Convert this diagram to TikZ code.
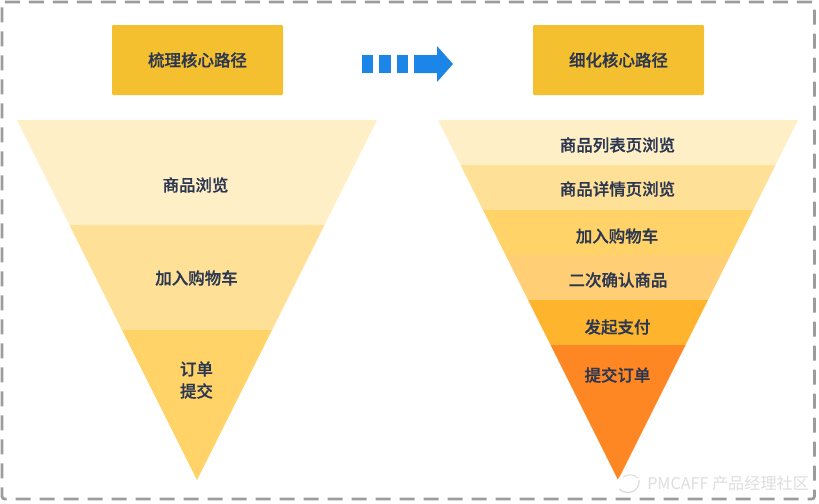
\documentclass[tikz,border=0pt]{standalone}
\usepackage{fontspec}
\setmainfont{Noto Sans CJK SC}
\newfontfamily\labfont[FakeBold=0.7]{Noto Sans CJK SC Medium}
\definecolor{ink}{HTML}{2B3650}
\definecolor{head}{HTML}{F4C030}
\definecolor{bandA}{HTML}{FFEFC7}
\definecolor{bandB}{HTML}{FFE097}
\definecolor{bandC}{HTML}{FFD368}
\definecolor{bandD}{HTML}{FFCE75}
\definecolor{bandE}{HTML}{FFB42D}
\definecolor{bandF}{HTML}{FF8723}
\definecolor{arrowblue}{HTML}{1B86E8}
\definecolor{frameg}{HTML}{9C9C9C}
\begin{document}
\begin{tikzpicture}[x=0.75pt,y=-0.75pt,
  lab/.style={font=\labfont\fontsize{12.35pt}{15pt}\selectfont,text=ink,inner sep=0pt,align=center},
  headbox/.style={fill=head,rounded corners=0.8pt,minimum width=128.25pt,minimum height=52.5pt,inner sep=0pt,lab},
  wm/.style={font=\fontsize{12.1pt}{14pt}\selectfont,text=black!13,inner sep=0pt,anchor=west}]
\useasboundingbox (0,0) rectangle (819,504);
\fill[white] (0,0) rectangle (819,504);
\draw[frameg,line width=2.1pt,rounded corners=2pt,dash pattern=on 11.25pt off 6.75pt,dash phase=-2pt] (2,2) rectangle (814.5,499);
\node[headbox] (h1) at (197.5,60) {梳理核心路径};
\node[headbox] (h2) at (618.5,60) {细化核心路径};
% blue arrow
\fill[arrowblue] (362,55) rectangle (373,73);
\fill[arrowblue] (379,55) rectangle (391,73);
\fill[arrowblue] (397,55) rectangle (408,73);
\fill[arrowblue] (414,55) -- (437,55) -- (437,46) -- (453,64) -- (437,82) -- (437,73) -- (414,73) -- cycle;
% left funnel: half-width = (480-y)/2
\fill[bandA] (17,120) -- (377,120) -- (324.5,225) -- (69.5,225) -- cycle;
\fill[bandB] (69.5,225) -- (324.5,225) -- (272,330) -- (122,330) -- cycle;
\fill[bandC] (122,330) -- (272,330) -- (197,480) -- cycle;
% right funnel
\fill[bandA] (438,120) -- (798,120) -- (775.5,165) -- (460.5,165) -- cycle;
\fill[bandB] (460.5,165) -- (775.5,165) -- (753,210) -- (483,210) -- cycle;
\fill[bandC] (483,210) -- (753,210) -- (730.5,255) -- (505.5,255) -- cycle;
\fill[bandD] (505.5,255) -- (730.5,255) -- (708,300) -- (528,300) -- cycle;
\fill[bandE] (528,300) -- (708,300) -- (685.5,345) -- (550.5,345) -- cycle;
\fill[bandF] (550.5,345) -- (685.5,345) -- (618,480) -- cycle;
% labels
\node[lab] (l1) at (195.5,185) {商品浏览};
\node[lab] (l2) at (196.5,278) {加入购物车};
\node[lab] (l3a) at (196.5,369) {订单};
\node[lab] (l3b) at (196.5,391) {提交};
\node[lab] (r1) at (617.5,145) {商品列表页浏览};
\node[lab] (r2) at (617.5,189) {商品详情页浏览};
\node[lab] (r3) at (617,236) {加入购物车};
\node[lab] (r4) at (618,280) {二次确认商品};
\node[lab] (r5) at (617.5,327) {发起支付};
\node[lab] (r6) at (617.5,375) {提交订单};
% watermark
\fill[white] (628,483) ellipse (11 and 9.5);
\draw[black!13,line width=1pt] (619,489) .. controls (627,496) and (640,492) .. (639,480);
\draw[black!13,line width=0.8pt] (623,477) .. controls (627,474) and (634,474) .. (638,478);
\node[wm] (w) at (647,483) {PMCAFF 产品经理社区};
\end{tikzpicture}
\end{document}
